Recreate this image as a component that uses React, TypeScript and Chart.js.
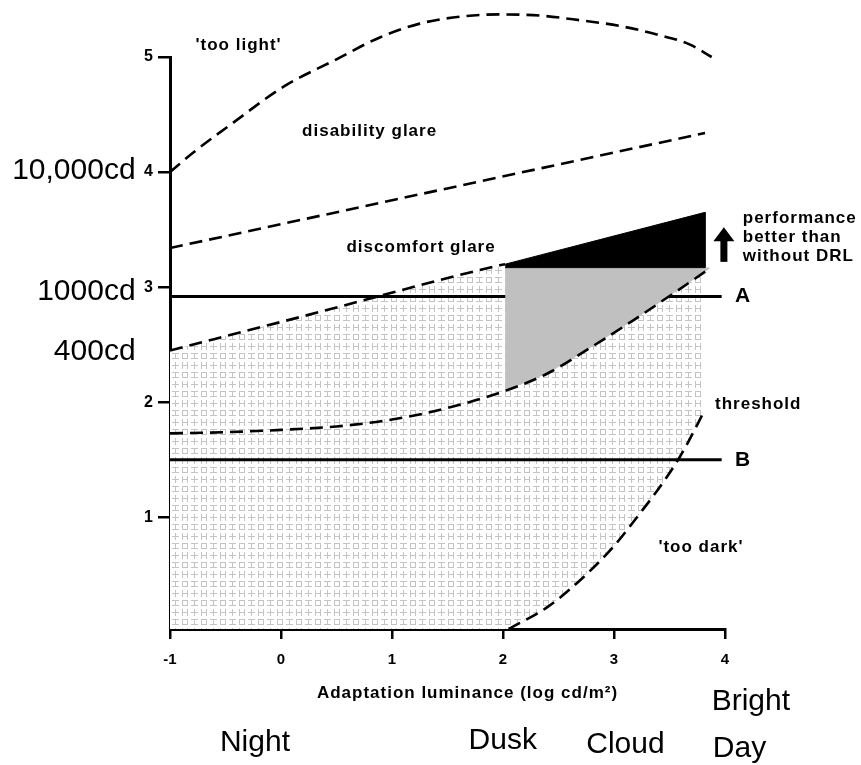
import React, { useEffect, useRef } from 'react';
import { Chart, registerables } from 'chart.js';

Chart.register(...registerables);

// ---- axes ----
const X_TICKS = [-1, 0, 1, 2, 3, 4];
const Y_TICKS = [1, 2, 3, 4, 5];
const X_MIN = -1;
const X_MAX = 4;
const Y_MIN = 0.03;
const Y_MAX = 5;

// ---- curves (x = log adaptation luminance, y = log intensity) ----
const tooLightX = [-1.0, -0.79, -0.43, 0.02, 0.5, 0.89, 1.25, 1.61, 1.97, 2.33, 2.69, 3.05, 3.41, 3.68, 3.88];
const tooLightY = [4.0, 4.17, 4.43, 4.74, 4.98, 5.17, 5.29, 5.35, 5.37, 5.36, 5.32, 5.27, 5.19, 5.11, 5.0];

const disabilityX = [-1.0, 3.82];
const disabilityY = [3.34, 4.34];

const discomfortX = [-1.0, 0.17, 1.97, 2.02];
const discomfortY = [2.45, 2.74, 3.19, 3.2];

const lowerX = [-1.0, -0.5, 0.0, 0.5, 1.0, 1.5, 2.02, 2.4, 2.78, 3.17, 3.48, 3.86];
const lowerY = [1.73, 1.74, 1.76, 1.79, 1.85, 1.95, 2.1, 2.25, 2.47, 2.71, 2.91, 3.16];

const thresholdX = [2.05, 2.4, 2.69, 2.99, 3.23, 3.44, 3.59, 3.71, 3.8];
const thresholdY = [0.03, 0.22, 0.45, 0.74, 1.03, 1.3, 1.52, 1.73, 1.9];

const refLineX = [-1.0, 3.97];
const lineAY = 2.92;
const lineBY = 1.5;

const blackX = [2.02, 3.82, 3.82, 2.02];
const blackY = [3.2, 3.65, 3.17, 3.17];

const greyTopY = 3.17;
const greyLeftX = 2.02;
const greyRightX = 3.86;
const hatchRightX = 3.8;

// ---- texts ----
const NOTE_TEXT = ["'too light'", 'disability glare', 'discomfort glare', 'threshold', "'too dark'"];
const NOTE_X = [-0.77, 0.19, 0.59, 3.91, 3.4];
const NOTE_Y = [5.1, 4.35, 3.35, 1.98, 0.74];

const DRL_TEXT = ['performance', 'better than', 'without DRL'];
const DRL_X = 4.16;
const DRL_Y = [3.6, 3.43, 3.27];
const ARROW_X = 3.99;
const ARROW_Y = [3.22, 3.52];

const LINE_LABELS = ['A', 'B'];
const LINE_LABEL_X = 4.09;

const CD_TEXT = ['10,000cd', '1000cd', '400cd'];
const CD_X = -1.31;
const CD_Y = [4.01, 2.96, 2.44];

const PERIOD_TEXT = ['Night', 'Dusk', 'Cloud', 'Bright', 'Day'];
const PERIOD_X = [-0.55, 1.69, 2.75, 3.88, 3.89];
const PERIOD_DROP = [122, 120, 124, 81, 128];

const X_TITLE = 'Adaptation luminance (log cd/m\u00B2)';
const X_TITLE_X = 1.68;
const X_TITLE_DROP = 64;

const pts = (xs: number[], ys: number[]) => xs.map((x, i) => ({ x, y: ys[i] }));

function makePattern(ctx: CanvasRenderingContext2D) {
  const t = document.createElement('canvas');
  t.width = 19;
  t.height = 19;
  const g = t.getContext('2d')!;
  g.fillStyle = '#ffffff';
  g.fillRect(0, 0, 19, 19);
  g.fillStyle = '#c4c4c4';
  // plus
  g.fillRect(1, 4, 7, 1);
  g.fillRect(4, 1, 1, 7);
  // H
  g.fillRect(11, 1, 1, 7);
  g.fillRect(16, 1, 1, 7);
  g.fillRect(11, 4, 6, 1);
  // I
  g.fillRect(1, 11, 7, 1);
  g.fillRect(1, 16, 7, 1);
  g.fillRect(4, 11, 1, 6);
  // square
  g.fillRect(11, 11, 6, 1);
  g.fillRect(11, 16, 6, 1);
  g.fillRect(11, 11, 1, 6);
  g.fillRect(16, 11, 1, 6);
  return ctx.createPattern(t, 'repeat')!;
}

const overlayPlugin = {
  id: 'overlay',
  afterDraw(chart: any) {
    const { ctx, chartArea } = chart;
    const xs = chart.scales.x;
    const ys = chart.scales.y;
    const px = (v: number) => xs.getPixelForValue(v);
    const py = (v: number) => ys.getPixelForValue(v);
    ctx.save();
    ctx.fillStyle = '#000';
    ctx.textBaseline = 'middle';
    ctx.textAlign = 'left';

    ctx.font = 'bold 17px "Liberation Sans", Arial, sans-serif';
    ctx.letterSpacing = '1px';
    NOTE_TEXT.forEach((t, i) => ctx.fillText(t, px(NOTE_X[i]), py(NOTE_Y[i])));
    DRL_TEXT.forEach((t, i) => ctx.fillText(t, px(DRL_X), py(DRL_Y[i])));

    ctx.textAlign = 'center';
    ctx.fillText(X_TITLE, px(X_TITLE_X), chartArea.bottom + X_TITLE_DROP);

    ctx.letterSpacing = '0px';
    ctx.textAlign = 'left';
    ctx.font = 'bold 21px "Liberation Sans", Arial, sans-serif';
    [lineAY, lineBY].forEach((v, i) => ctx.fillText(LINE_LABELS[i], px(LINE_LABEL_X), py(v)));

    // arrow
    const ax = px(ARROW_X);
    const top = py(ARROW_Y[1]);
    const bot = py(ARROW_Y[0]);
    ctx.fillRect(ax - 3.5, top + 12, 7, bot - top - 12);
    ctx.beginPath();
    ctx.moveTo(ax, top);
    ctx.lineTo(ax + 10.5, top + 14);
    ctx.lineTo(ax - 10.5, top + 14);
    ctx.closePath();
    ctx.fill();

    ctx.font = '30px "Liberation Sans", Arial, sans-serif';
    ctx.textAlign = 'right';
    CD_TEXT.forEach((t, i) => ctx.fillText(t, px(CD_X), py(CD_Y[i])));

    ctx.textAlign = 'left';
    ctx.textBaseline = 'alphabetic';
    PERIOD_TEXT.forEach((t, i) => ctx.fillText(t, px(PERIOD_X[i]), chartArea.bottom + PERIOD_DROP[i]));
    ctx.restore();
  },
};

export default function App() {
  const ref = useRef<HTMLCanvasElement>(null);

  useEffect(() => {
    const canvas = ref.current!;
    const pattern = makePattern(canvas.getContext('2d')!);
    Chart.defaults.font.family = '"Liberation Sans", Arial, sans-serif';

    const dashed = {
      borderColor: '#000',
      borderWidth: 2.6,
      borderDash: [13, 7],
      borderCapStyle: 'butt',
      pointRadius: 0,
      fill: false,
      cubicInterpolationMode: 'monotone',
      order: 1,
    };

    const greyPoly = [
      { x: greyLeftX, y: greyTopY },
      { x: greyRightX, y: greyTopY },
      ...pts(lowerX, lowerY).filter((p) => p.x >= greyLeftX).reverse(),
    ];

    const hatchPoly = [
      { x: X_MIN, y: Y_MIN },
      ...pts(discomfortX, discomfortY),
      { x: hatchRightX, y: greyTopY },
      ...pts(thresholdX, thresholdY).reverse(),
      { x: thresholdX[0], y: Y_MIN },
    ];

    const chart = new Chart(canvas, {
      type: 'line',
      data: {
        datasets: [
          { label: 'too light limit', data: pts(tooLightX, tooLightY), ...dashed, clip: false } as any,
          { label: 'disability glare limit', data: pts(disabilityX, disabilityY), ...dashed } as any,
          { label: 'discomfort glare limit', data: pts(discomfortX, discomfortY), ...dashed } as any,
          { label: 'lower limit', data: pts(lowerX, lowerY), ...dashed } as any,
          { label: 'threshold', data: pts(thresholdX, thresholdY), ...dashed } as any,
          {
            label: 'performance better than without DRL',
            data: pts(blackX, blackY),
            fill: 'shape',
            backgroundColor: '#000',
            borderColor: '#000',
            borderWidth: 1,
            pointRadius: 0,
            tension: 0,
            order: 3,
          } as any,
          {
            label: 'DRL range',
            data: greyPoly,
            fill: 'shape',
            backgroundColor: '#c0c0c0',
            borderColor: 'rgba(0,0,0,0)',
            borderWidth: 1,
            pointRadius: 0,
            tension: 0,
            order: 4,
          } as any,
          { label: 'A', data: pts(refLineX, [lineAY, lineAY]), borderColor: '#000', borderWidth: 3, pointRadius: 0, order: 5 } as any,
          { label: 'B', data: pts(refLineX, [lineBY, lineBY]), borderColor: '#000', borderWidth: 3, pointRadius: 0, order: 5 } as any,
          {
            label: 'acceptable',
            data: hatchPoly,
            fill: 'shape',
            backgroundColor: pattern,
            borderColor: 'rgba(0,0,0,0)',
            borderWidth: 1,
            pointRadius: 0,
            tension: 0,
            order: 6,
          } as any,
        ],
      },
      options: {
        responsive: false,
        animation: false,
        devicePixelRatio: 1,
        events: [],
        layout: { padding: { left: 130, right: 136, top: 57, bottom: 86 } },
        plugins: { legend: { display: false }, tooltip: { enabled: false }, title: { display: false } },
        scales: {
          x: {
            type: 'linear',
            min: X_MIN,
            max: X_MAX,
            afterFit: (s: any) => {
              s.height = 50;
            },
            afterBuildTicks: (s: any) => {
              s.ticks = X_TICKS.map((v) => ({ value: v }));
            },
            border: { display: true, color: '#000', width: 3 },
            grid: { display: true, drawOnChartArea: false, drawTicks: true, tickLength: 10, color: '#000', lineWidth: 2.5 },
            ticks: { color: '#000', padding: 12, font: { size: 15, weight: 'bold' }, maxRotation: 0 },
          },
          y: {
            type: 'linear',
            min: Y_MIN,
            max: Y_MAX,
            afterFit: (s: any) => {
              s.width = 40;
            },
            afterBuildTicks: (s: any) => {
              s.ticks = Y_TICKS.map((v) => ({ value: v }));
            },
            border: { display: true, color: '#000', width: 3 },
            grid: { display: true, drawOnChartArea: false, drawTicks: true, tickLength: 12, color: '#000', lineWidth: 2.5 },
            ticks: { color: '#000', padding: 5, font: { size: 16, weight: 'bold' } },
          },
        },
      } as any,
      plugins: [overlayPlugin as any],
    });
    return () => chart.destroy();
  }, []);

  return (
    <div style={{ position: 'fixed', left: 0, top: 0, width: 861, height: 765, background: '#fff' }}>
      <canvas ref={ref} width={861} height={765} style={{ display: 'block', width: 861, height: 765 }} />
    </div>
  );
}
